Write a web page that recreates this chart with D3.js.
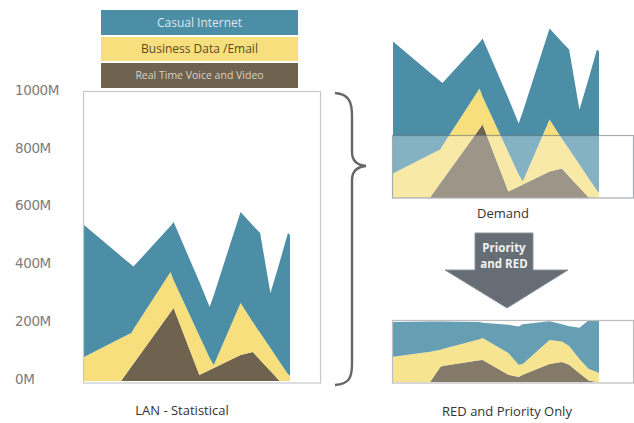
<!DOCTYPE html>
<html>
<head>
<meta charset="utf-8">
<script src="https://cdn.jsdelivr.net/npm/d3@7"></script>
<style>
  html, body { margin: 0; padding: 0; background: #fff; }
  svg { display: block; font-family: "Open Sans", "DejaVu Sans", sans-serif; }
</style>
</head>
<body>
<svg id="chart" width="634" height="423"></svg>
<script>
// Sample times (arbitrary units across the observation window)
const times = [0, 18, 23, 24, 42, 43.5, 56, 61, 63, 76, 82, 85.5, 90.5, 95, 99, 100];

// LAN demand per traffic class, in Mbit/s
const casualInternet = [457, 283, 236, 217, 159, 201, 186, 176, 242, 315, 335, 345, 190, 346, 488, 488];
const businessData   = [83, 149, 116, 119, 139, 96, 136, 42, 10, 180, 103, 94, 79, 66, 24, 17];
const realTimeVoice  = [0, 0, 50, 60, 238, 253, 21, 38, 45, 90, 100, 73, 35, 0, 0, 0];

// Same traffic after priority queueing and RED on the WAN link
const casualRED   = [121, 104, 97, 95, 60, 53, 98, 132, 138, 65, 60, 68, 108, 169, 177, 182];
const businessRED = [87, 105, 60, 59, 73, 76, 75, 43, 37, 83, 71, 65, 50, 40, 35, 30];
const voiceRED    = [0, 0, 52, 55, 75, 76, 25, 17, 25, 62, 69, 60, 30, 5, 0, 0];

const seriesNames = ["Casual Internet", "Business Data /Email", "Real Time Voice and Video"];
const seriesKeys  = ["casual", "business", "voice"];
const yTicks = [0, 200, 400, 600, 800, 1000];

const colors = { casual: "#4b8ea6", business: "#f6df7c", voice: "#6f6350" };
const legendText = { casual: "#dbe8ee", business: "#5a4a2a", voice: "#d8d2c6" };

const svg = d3.select("#chart");

const x = d3.scaleLinear().domain([0, 100]).range([84, 290]);
const y = d3.scaleLinear().domain([0, 1000]).range([381, 92]);

function buildRows(c, b, v) {
  return times.map((t, i) => ({ t, casual: c[i], business: b[i], voice: v[i] }));
}

// bottom-up stacking: voice, business, casual
const stack = d3.stack().keys(["voice", "business", "casual"]);
const area = d3.area()
  .x(d => x(d.data.t))
  .y0(d => y(d[0]))
  .y1(d => y(d[1]));

function drawStack(g, rows) {
  const layers = stack(rows);
  g.selectAll("path.layer")
    .data(layers)
    .join("path")
    .attr("class", "layer")
    .attr("d", area)
    .attr("fill", d => colors[d.key]);
}

// ---------- legend ----------
const legend = svg.append("g");
const legendRows = [
  { key: "casual", y: 10, h: 25, size: 12 },
  { key: "business", y: 37, h: 24, size: 12 },
  { key: "voice", y: 63, h: 25, size: 10.5 }
];
legendRows.forEach(r => {
  legend.append("rect")
    .attr("x", 101).attr("y", r.y).attr("width", 197).attr("height", r.h)
    .attr("fill", colors[r.key]);
  legend.append("text")
    .attr("x", 199.5).attr("y", r.y + r.h / 2)
    .attr("dy", "0.35em")
    .attr("text-anchor", "middle")
    .attr("fill", legendText[r.key])
    .attr("font-size", r.size)
    .text(seriesNames[seriesKeys.indexOf(r.key)]);
});

// ---------- main LAN chart ----------
const mainG = svg.append("g");
drawStack(mainG, buildRows(casualInternet, businessData, realTimeVoice));
svg.append("rect")
  .attr("x", 83.5).attr("y", 91.5).attr("width", 237).attr("height", 291.5)
  .attr("fill", "none").attr("stroke", "#c8c8c8").attr("stroke-width", 1.2);

const yAxis = d3.axisLeft(y).tickValues(yTicks).tickSize(0).tickFormat(d => d + "M");
const axisG = svg.append("g").attr("transform", "translate(15,-2)").call(yAxis);
axisG.select(".domain").remove();
axisG.selectAll("text")
  .attr("x", 0).attr("text-anchor", "start")
  .attr("fill", "#7c7c7c")
  .attr("font-size", 13.5)
  .attr("font-family", "'DejaVu Sans', sans-serif")
  .attr("letter-spacing", "-0.4px");

svg.append("text")
  .attr("x", 182).attr("y", 415)
  .attr("text-anchor", "middle").attr("fill", "#333")
  .attr("font-size", 13)
  .text("LAN - Statistical");

// ---------- brace ----------
svg.append("path")
  .attr("d", "M335,93 C349,94 352,102 352,116 L352,152 C352,160 356,165 366,166 C356,167 352,172 352,180 L352,364 C352,378 349,384 335,385")
  .attr("fill", "none").attr("stroke", "#666").attr("stroke-width", 2.4);

// ---------- demand copy ----------
const demandG = svg.append("g").attr("transform", "translate(309,-183.5)");
drawStack(demandG, buildRows(casualInternet, businessData, realTimeVoice));
// WAN capacity window over the demand
svg.append("rect")
  .attr("x", 392.5).attr("y", 135.5).attr("width", 241).attr("height", 62.5)
  .attr("fill", "#fff").attr("fill-opacity", 0.32)
  .attr("stroke", "#5e6a6e").attr("stroke-opacity", 0.55).attr("stroke-width", 1.2);

svg.append("text")
  .attr("x", 503).attr("y", 218)
  .attr("text-anchor", "middle").attr("fill", "#333")
  .attr("font-size", 13)
  .text("Demand");

// ---------- arrow ----------
svg.append("path")
  .attr("d", "M475,233 L533,233 L533,270 L568,270 L507,308 L445,270 L475,270 Z")
  .attr("fill", "#676d75").attr("stroke", "#8e949b").attr("stroke-width", 1);
svg.append("text")
  .attr("x", 504).attr("y", 252)
  .attr("text-anchor", "middle").attr("fill", "#f2f2f2")
  .attr("font-size", 11.5).attr("font-weight", "bold")
  .text("Priority");
svg.append("text")
  .attr("x", 504).attr("y", 268)
  .attr("text-anchor", "middle").attr("fill", "#f2f2f2")
  .attr("font-size", 11.5).attr("font-weight", "bold")
  .text("and RED");

// ---------- RED and priority output ----------
const redG = svg.append("g").attr("transform", "translate(309,1)");
drawStack(redG, buildRows(casualRED, businessRED, voiceRED));
redG.selectAll("path.layer").attr("fill-opacity", 0.85);
svg.append("rect")
  .attr("x", 392.5).attr("y", 320.5).attr("width", 241).attr("height", 62.5)
  .attr("fill", "none").attr("stroke", "#bdbdbd").attr("stroke-width", 1.2);

svg.append("text")
  .attr("x", 507).attr("y", 416)
  .attr("text-anchor", "middle").attr("fill", "#333")
  .attr("font-size", 13)
  .text("RED and Priority Only");
</script>
</body>
</html>
